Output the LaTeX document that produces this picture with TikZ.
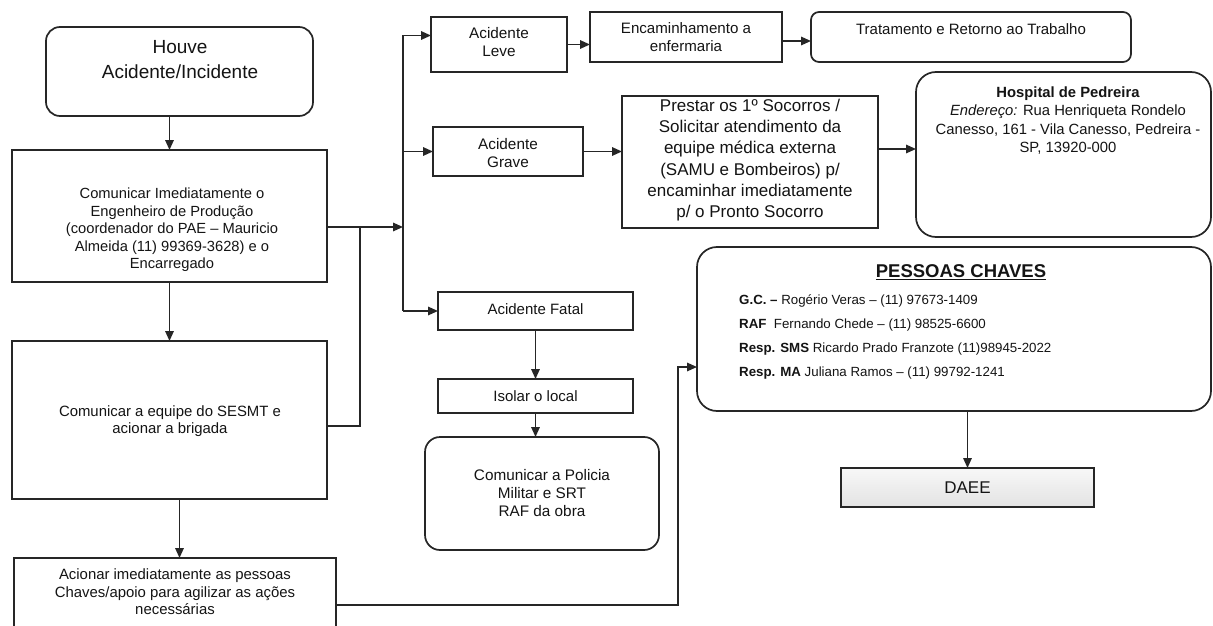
\documentclass[tikz,border=0pt]{standalone}
\usepackage{fontspec}
\setmainfont{Liberation Sans}
\usetikzlibrary{arrows.meta}
\begin{document}
\begin{tikzpicture}[x=1pt,y=-1pt,
 box/.style={draw=black!85,line width=1.7pt,inner sep=0pt,outer sep=0pt},
 rbox/.style={box,rounded corners=#1},
 txt/.style={align=center,inner sep=0pt,text=black!92},
 arr/.style={line width=1.6pt,draw=black!85,-{Triangle[length=10pt,width=8.5pt]}},
 ln/.style={line width=1.6pt,draw=black!85}]
\useasboundingbox (0,0) rectangle (1213,626);
\clip (0,0) rectangle (1213,626);
\fill[white] (0,0) rectangle (1213,626);

% left column
\node[rbox=14pt,minimum width=267pt,minimum height=89pt] (houve) at (179.5,71.5) {};
\node[txt,font=\fontsize{19}{25}\selectfont] (houveT) at (180,60) {Houve\\Acidente/Incidente};
\node[box,minimum width=315pt,minimum height=132pt] (com) at (169.5,216) {};
\node[txt,font=\fontsize{14.7}{17.5}\selectfont] (comT) at (172,230) {Comunicar Imediatamente o\\Engenheiro de Produção\\(coordenador do PAE – Mauricio\\Almeida (11) 99369-3628) e o\\Encarregado};
\node[box,minimum width=315pt,minimum height=158pt] (sesmt) at (169.5,420) {};
\node[txt,font=\fontsize{14.9}{17.5}\selectfont] (sesmtT) at (170,421) {Comunicar a equipe do SESMT e\\acionar a brigada};
\node[box,minimum width=322pt,minimum height=78pt] (acion) at (175,597) {};
\node[txt,font=\fontsize{14.9}{17.5}\selectfont] (acionT) at (175,592) {Acionar imediatamente as pessoas\\Chaves/apoio para agilizar as ações\\necessárias};

% middle
\node[box,minimum width=136pt,minimum height=55pt] (leve) at (499,44.5) {};
\node[txt,font=\fontsize{15.3}{18}\selectfont] (leveT) at (499,42) {Acidente\\Leve};
\node[box,minimum width=192pt,minimum height=50pt] (enc) at (686,37) {};
\node[txt,font=\fontsize{15.1}{18}\selectfont] (encT) at (686,37) {Encaminhamento a\\enfermaria};
\node[rbox=8pt,minimum width=320pt,minimum height=50pt] (trat) at (971,37) {};
\node[txt,font=\fontsize{15}{18}\selectfont] (tratT) at (971,29) {Tratamento e Retorno ao Trabalho};
\node[box,minimum width=150pt,minimum height=49pt] (grave) at (508,151.5) {};
\node[txt,font=\fontsize{15.3}{18.5}\selectfont] (graveT) at (508,153) {Acidente\\Grave};
\node[box,minimum width=256pt,minimum height=132pt] (prestar) at (750,162) {};
\node[txt,font=\fontsize{17}{21.3}\selectfont] (prestarT) at (750,160) {Prestar os 1º Socorros /\\Solicitar atendimento da\\equipe médica externa\\(SAMU e Bombeiros) p/\\encaminhar imediatamente\\p/ o Pronto Socorro};
\node[rbox=20pt,minimum width=295pt,minimum height=165pt] (hosp) at (1063.5,154.5) {};
\node[txt,font=\fontsize{14.8}{18.3}\selectfont] (hospT) at (1068,120.5) {{\bfseries Hospital de Pedreira}\\\textit{Endereço:} Rua Henriqueta Rondelo\\Canesso, 161 - Vila Canesso, Pedreira -\\SP, 13920-000};

\node[box,minimum width=195pt,minimum height=38pt] (fatal) at (535.5,311) {};
\node[txt,font=\fontsize{15}{18}\selectfont] (fatalT) at (535.5,309) {Acidente Fatal};
\node[box,minimum width=195pt,minimum height=34pt] (isolar) at (535.5,396) {};
\node[txt,font=\fontsize{15}{18}\selectfont] (isolarT) at (535.5,396) {Isolar o local};
\node[rbox=15pt,minimum width=234pt,minimum height=113pt] (policia) at (542,493.5) {};
\node[txt,font=\fontsize{15.3}{18}\selectfont] (policiaT) at (542,493) {Comunicar a Policia\\Militar e SRT\\RAF da obra};

% right
\node[rbox=20pt,minimum width=514pt,minimum height=164pt] (pessoas) at (954,329) {};
\node[txt,font=\fontsize{18.5}{22}\selectfont\bfseries] (pesT) at (961,272) {\underline{PESSOAS CHAVES}};
\node[txt,align=left,anchor=west,font=\fontsize{13.3}{24}\selectfont] (pesL) at (739,337) {\textbf{G.C. –} Rogério Veras – (11) 97673-1409\\\textbf{RAF}\ \ Fernando Chede – (11) 98525-6600\\\textbf{Resp. SMS} Ricardo Prado Franzote (11)98945-2022\\\textbf{Resp. MA} Juliana Ramos – (11) 99792-1241};
\node[box,top color=gray!6,bottom color=gray!22,minimum width=253pt,minimum height=39pt] (daee) at (967.5,487.5) {};
\node[txt,font=\fontsize{17}{20}\selectfont] (daeeT) at (967.5,487.5) {DAEE};

% connectors
\coordinate (tr) at (403,0);
\coordinate (jx) at (360,0);
\coordinate (px) at (678,0);
\coordinate (lv) at ([yshift=9pt]leve.west);
\coordinate (ce) at ([yshift=-11pt]com.east);
\coordinate (se) at ([yshift=-6pt]sesmt.east);
\coordinate (ee) at ([yshift=-4pt]enc.east);
\coordinate (pe) at ([yshift=13pt]prestar.east);
\coordinate (ae) at ([yshift=-8pt]acion.east);
\coordinate (pw) at ([yshift=-38pt]pessoas.west);
\coordinate (sb) at ([xshift=10pt]sesmt.south);

\draw[arr] (com.north |- houve.south) -- (com.north);
\draw[arr] (com.south) -- (sesmt.north);
\draw[arr] (sb) -- (sb |- acion.north);
\draw[ln] (lv -| tr) -- (fatal.west -| tr);
\draw[arr] (lv -| tr) -- (lv);
\draw[arr] (grave.west -| tr) -- (grave.west);
\draw[arr] (fatal.west -| tr) -- (fatal.west);
\draw[arr] (ce) -- (ce -| tr);
\draw[ln] (se) -- (se -| jx) -- (ce -| jx);
\draw[arr] (leve.east) -- (leve.east -| enc.west);
\draw[arr] (ee) -- (ee -| trat.west);
\draw[arr] (grave.east) -- (grave.east -| prestar.west);
\draw[arr] (pe) -- (pe -| hosp.west);
\draw[arr] (fatal.south) -- (isolar.north);
\draw[arr] (isolar.south) -- (isolar.south |- policia.north);
\draw[arr] (ae) -- (ae -| px) -- (pw -| px) -- (pw);
\draw[arr] (daee.north |- pessoas.south) -- (daee.north);
\end{tikzpicture}
\end{document}
